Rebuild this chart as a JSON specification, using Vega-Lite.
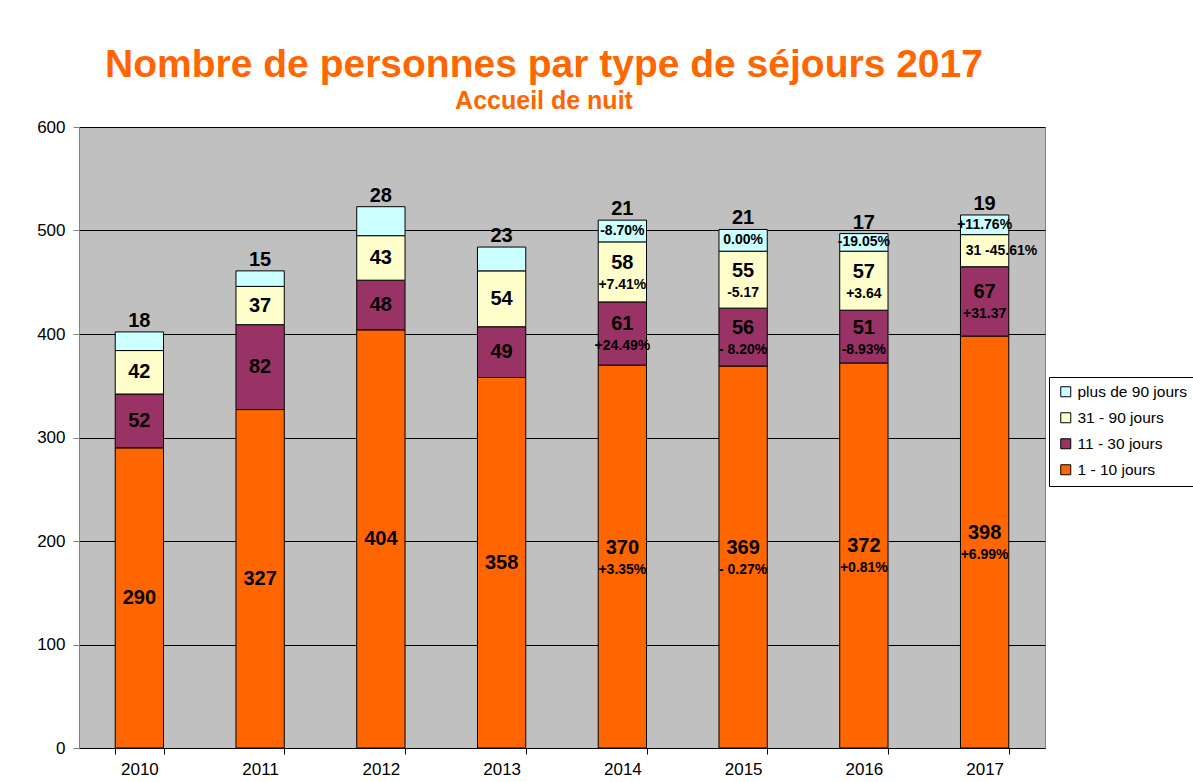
{
  "$schema": "https://vega.github.io/schema/vega-lite/v6.json",
  "width": 966,
  "height": 621,
  "autosize": {"type": "none"},
  "padding": {"left": 79, "top": 127, "right": 148, "bottom": 34},
  "background": "white",
  "title": {
    "text": "Nombre de personnes par type de séjours 2017",
    "subtitle": "Accueil de nuit",
    "anchor": "middle",
    "frame": "group",
    "dx": -18,
    "offset": 4,
    "font": "Liberation Sans",
    "fontSize": 39,
    "fontWeight": "bold",
    "color": "#FF6600",
    "subtitleFont": "Liberation Sans",
    "subtitleFontSize": 25,
    "subtitleFontWeight": "bold",
    "subtitleColor": "#FF6600",
    "subtitlePadding": 4
  },
  "config": {
    "view": {"fill": "#C0C0C0", "stroke": "#808080", "strokeWidth": 1},
    "font": "Liberation Sans",
    "text": {"font": "Liberation Sans", "fontWeight": "bold", "color": "black", "baseline": "middle", "align": "center"}
  },
  "data": {
    "values": [
      {"year": "2010", "category": "1 - 10 jours", "value": 290, "num": "290", "pct": ""},
      {"year": "2010", "category": "11 - 30 jours", "value": 52, "num": "52", "pct": ""},
      {"year": "2010", "category": "31 - 90 jours", "value": 42, "num": "42", "pct": ""},
      {"year": "2010", "category": "plus de 90 jours", "value": 18, "num": "18", "pct": ""},
      {"year": "2011", "category": "1 - 10 jours", "value": 327, "num": "327", "pct": ""},
      {"year": "2011", "category": "11 - 30 jours", "value": 82, "num": "82", "pct": ""},
      {"year": "2011", "category": "31 - 90 jours", "value": 37, "num": "37", "pct": ""},
      {"year": "2011", "category": "plus de 90 jours", "value": 15, "num": "15", "pct": ""},
      {"year": "2012", "category": "1 - 10 jours", "value": 404, "num": "404", "pct": ""},
      {"year": "2012", "category": "11 - 30 jours", "value": 48, "num": "48", "pct": ""},
      {"year": "2012", "category": "31 - 90 jours", "value": 43, "num": "43", "pct": ""},
      {"year": "2012", "category": "plus de 90 jours", "value": 28, "num": "28", "pct": ""},
      {"year": "2013", "category": "1 - 10 jours", "value": 358, "num": "358", "pct": ""},
      {"year": "2013", "category": "11 - 30 jours", "value": 49, "num": "49", "pct": ""},
      {"year": "2013", "category": "31 - 90 jours", "value": 54, "num": "54", "pct": ""},
      {"year": "2013", "category": "plus de 90 jours", "value": 23, "num": "23", "pct": ""},
      {"year": "2014", "category": "1 - 10 jours", "value": 370, "num": "370", "pct": "+3.35%"},
      {"year": "2014", "category": "11 - 30 jours", "value": 61, "num": "61", "pct": "+24.49%"},
      {"year": "2014", "category": "31 - 90 jours", "value": 58, "num": "58", "pct": "+7.41%"},
      {"year": "2014", "category": "plus de 90 jours", "value": 21, "num": "21", "pct": "-8.70%"},
      {"year": "2015", "category": "1 - 10 jours", "value": 369, "num": "369", "pct": "- 0.27%"},
      {"year": "2015", "category": "11 - 30 jours", "value": 56, "num": "56", "pct": "- 8.20%"},
      {"year": "2015", "category": "31 - 90 jours", "value": 55, "num": "55", "pct": "-5.17"},
      {"year": "2015", "category": "plus de 90 jours", "value": 21, "num": "21", "pct": "0.00%"},
      {"year": "2016", "category": "1 - 10 jours", "value": 372, "num": "372", "pct": "+0.81%"},
      {"year": "2016", "category": "11 - 30 jours", "value": 51, "num": "51", "pct": "-8.93%"},
      {"year": "2016", "category": "31 - 90 jours", "value": 57, "num": "57", "pct": "+3.64"},
      {"year": "2016", "category": "plus de 90 jours", "value": 17, "num": "17", "pct": "-19.05%"},
      {"year": "2017", "category": "1 - 10 jours", "value": 398, "num": "398", "pct": "+6.99%"},
      {"year": "2017", "category": "11 - 30 jours", "value": 67, "num": "67", "pct": "+31.37"},
      {"year": "2017", "category": "31 - 90 jours", "value": 31, "num": "", "pct": "31 -45.61%"},
      {"year": "2017", "category": "plus de 90 jours", "value": 19, "num": "19", "pct": "+11.76%"}
    ]
  },
  "transform": [
    {"calculate": "indexof(['1 - 10 jours','11 - 30 jours','31 - 90 jours','plus de 90 jours'], datum.category)", "as": "ord"},
    {"stack": "value", "groupby": ["year"], "sort": [{"field": "ord", "order": "ascending"}], "as": ["y0", "y1"]},
    {"calculate": "(datum.y0 + datum.y1) / 2", "as": "ymid"}
  ],
  "encoding": {
    "x": {
      "field": "year", "type": "nominal", "title": null,
      "scale": {"paddingInner": 0.6, "paddingOuter": 0.3},
      "axis": {"labelAngle": 0, "labelFontSize": 17, "labelColor": "black", "labelFont": "Liberation Sans", "tickBand": "extent", "tickSize": 6, "tickColor": "black", "domainColor": "black", "labelPadding": 7, "grid": false}
    }
  },
  "layer": [
    {
      "mark": {"type": "bar", "stroke": "black", "strokeWidth": 1},
      "encoding": {
        "y": {"field": "y0", "type": "quantitative", "title": null,
          "scale": {"domain": [0, 600], "nice": false},
          "axis": {"values": [0, 100, 200, 300, 400, 500, 600], "labelFontSize": 17, "labelColor": "black", "labelFont": "Liberation Sans", "gridColor": "black", "gridWidth": 1, "gridOpacity": 1, "tickSize": 6, "tickColor": "#808080", "domainColor": "#808080", "labelPadding": 8}},
        "y2": {"field": "y1"},
        "color": {
          "field": "category", "type": "nominal", "title": null,
          "scale": {"domain": ["plus de 90 jours", "31 - 90 jours", "11 - 30 jours", "1 - 10 jours"], "range": ["#CCFFFF", "#FFFFCC", "#993366", "#FF6600"]},
          "legend": {
            "orient": "none", "legendX": 970, "legendY": 250,
            "symbolType": "square", "symbolSize": 100, "symbolStrokeColor": "black", "symbolStrokeWidth": 1, "symbolOpacity": 1,
            "labelFontSize": 15.5, "labelFont": "Liberation Sans", "labelColor": "black", "labelLimit": 200,
            "fillColor": "white", "strokeColor": "black", "padding": 7, "rowPadding": 9, "symbolOffset": 2
          }
        }
      }
    },
    {
      "transform": [{"filter": "datum.category != 'plus de 90 jours' && datum.pct == ''"}],
      "mark": {"type": "text", "fontSize": 20},
      "encoding": {"y": {"field": "ymid", "type": "quantitative"}, "text": {"field": "num"}}
    },
    {
      "transform": [{"filter": "datum.category != 'plus de 90 jours' && datum.pct != '' && datum.num != ''"}],
      "mark": {"type": "text", "fontSize": 20, "dy": -9},
      "encoding": {"y": {"field": "ymid", "type": "quantitative"}, "text": {"field": "num"}}
    },
    {
      "transform": [{"filter": "datum.category != 'plus de 90 jours' && datum.pct != '' && datum.num != ''"}],
      "mark": {"type": "text", "fontSize": 14, "dy": 13},
      "encoding": {"y": {"field": "ymid", "type": "quantitative"}, "text": {"field": "pct"}}
    },
    {
      "transform": [{"filter": "datum.category == 'plus de 90 jours' && datum.pct != ''"}],
      "mark": {"type": "text", "fontSize": 14},
      "encoding": {"y": {"field": "ymid", "type": "quantitative"}, "text": {"field": "pct"}}
    },
    {
      "transform": [{"filter": "datum.num == ''"}],
      "mark": {"type": "text", "fontSize": 14, "align": "left", "dx": -19},
      "encoding": {"y": {"field": "ymid", "type": "quantitative"}, "text": {"field": "pct"}}
    },
    {
      "transform": [{"filter": "datum.category == 'plus de 90 jours'"}],
      "mark": {"type": "text", "fontSize": 20, "dy": -11},
      "encoding": {"y": {"field": "y1", "type": "quantitative"}, "text": {"field": "num"}}
    }
  ]
}
